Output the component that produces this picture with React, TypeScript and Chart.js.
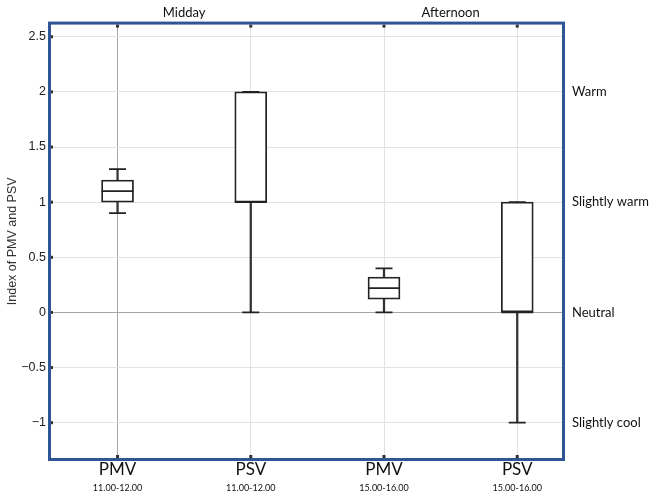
import React, { useEffect, useRef } from "react";
import { Chart, registerables } from "chart.js";

Chart.register(...registerables);

const categories = ["PMV", "PSV", "PMV", "PSV"];
const periods = ["11.00-12.00", "11.00-12.00", "15.00-16.00", "15.00-16.00"];
const positions = [0, 1, 2, 3];
const whiskerLow = [0.9, 0, 0, -1];
const q1 = [1.0, 1.0, 0.12, 0];
const medians = [1.1, 1.0, 0.22, 0];
const q3 = [1.2, 2.0, 0.32, 1.0];
const whiskerHigh = [1.3, 2.0, 0.4, 1.0];
const yTicks = [2.5, 2, 1.5, 1, 0.5, 0, -0.5, -1];
const sensationTicks = [2, 1, 0, -1];
const sensationLabels = ["Warm", "Slightly warm", "Neutral", "Slightly cool"];
const groupTicks = [0.5, 2.5];
const groupLabels = ["Midday", "Afternoon"];

const X_MIN = -0.507;
const X_MAX = 3.336;
const Y_MIN = -1.32;
const Y_MAX = 2.61;

const frame = {
  id: "frame",
  afterDraw(chart: any) {
    const { ctx, chartArea: a, scales } = chart;
    ctx.save();
    ctx.fillStyle = "#333";
    yTicks.forEach((v) => {
      const py = scales.y.getPixelForValue(v);
      ctx.fillRect(a.left, py - 1.5, 3, 3);
    });
    positions.forEach((v) => {
      const px = scales.x.getPixelForValue(v);
      ctx.fillRect(px - 1.5, a.top, 3, 3);
      ctx.fillRect(px - 1.5, a.bottom - 3, 3, 3);
    });
    ctx.strokeStyle = "#2f5597";
    ctx.lineWidth = 3;
    ctx.strokeRect(a.left - 0.5, a.top - 1.5, a.right - a.left + 2, a.bottom - a.top + 3);
    ctx.restore();
  },
};

export default function App() {
  const ref = useRef<HTMLCanvasElement>(null);
  useEffect(() => {
    document.body.style.margin = "0";
    const ctx = ref.current!;
    const boxData = positions.map((x, i) => ({ x, y: [q1[i], q3[i]] }));
    const whiskerData = positions.map((x, i) => ({ x, y: [whiskerLow[i], whiskerHigh[i]] }));
    const medianData = positions.map((x, i) => ({ x, y: medians[i] }));
    const capData = positions.flatMap((x, i) => [
      { x, y: whiskerLow[i] },
      { x, y: whiskerHigh[i] },
    ]);
    const fixTicks = (vals: number[]) => (scale: any) => {
      scale.ticks = vals.map((v) => ({ value: v }));
    };
    const xCommon = {
      type: "linear",
      min: X_MIN,
      max: X_MAX,
      offset: false,
    };
    const chart = new Chart(ctx, {
      type: "bar",
      data: {
        datasets: [
          {
            type: "line",
            data: medianData,
            showLine: false,
            pointStyle: "line",
            pointRadius: 16,
            pointBorderWidth: 1.8,
            pointBorderColor: "#222",
            order: 0,
          } as any,
          {
            type: "line",
            data: capData,
            showLine: false,
            pointStyle: "line",
            pointRadius: 8.5,
            pointBorderWidth: 1.8,
            pointBorderColor: "#222",
            order: 0,
          } as any,
          {
            type: "bar",
            data: boxData,
            backgroundColor: "#ffffff",
            borderColor: "#222",
            borderWidth: 1.8,
            borderSkipped: false,
            barThickness: 32,
            grouped: false,
            order: 1,
          } as any,
          {
            type: "bar",
            data: whiskerData,
            backgroundColor: "#333",
            borderWidth: 0,
            barThickness: 1.6,
            grouped: false,
            order: 2,
          } as any,
        ],
      },
      options: {
        animation: false,
        responsive: true,
        maintainAspectRatio: false,
        layout: { padding: { top: 1, right: 0, left: 5, bottom: 0 } },
        plugins: { legend: { display: false }, tooltip: { enabled: false } },
        scales: {
          x: {
            ...xCommon,
            position: "bottom",
            afterBuildTicks: fixTicks(positions),
            ticks: {
              callback: (v: any) => categories[positions.indexOf(Number(v))] ?? "",
              font: { family: "Lato", size: 17 },
              color: "#111",
              padding: 1,
              autoSkip: false,
              maxRotation: 0,
            },
            grid: {
              offset: false,
              color: (c: any) => (c.tick && c.tick.value === 0 ? "#a6a6a6" : "#e2e2e2"),
              lineWidth: 1,
              drawTicks: false,
            },
            border: { display: false },
            afterFit: (s: any) => {
              s.height = 21.5;
            },
          },
          x2: {
            ...xCommon,
            position: "bottom",
            afterBuildTicks: fixTicks(positions),
            ticks: {
              callback: (v: any) => periods[positions.indexOf(Number(v))] ?? "",
              font: { family: "Lato", size: 9 },
              color: "#111",
              padding: 3,
              autoSkip: false,
              maxRotation: 0,
            },
            grid: { offset: false, drawOnChartArea: false, drawTicks: false },
            border: { display: false },
            afterFit: (s: any) => {
              s.height = 17.5;
            },
          },
          xTop: {
            ...xCommon,
            position: "top",
            afterBuildTicks: fixTicks(groupTicks),
            ticks: {
              callback: (v: any) => groupLabels[groupTicks.indexOf(Number(v))] ?? "",
              font: { family: "Lato", size: 13 },
              color: "#111",
              padding: 4,
              autoSkip: false,
              maxRotation: 0,
            },
            grid: { offset: false, drawOnChartArea: false, drawTicks: false },
            border: { display: false },
          },
          y: {
            type: "linear",
            position: "left",
            min: Y_MIN,
            max: Y_MAX,
            afterBuildTicks: fixTicks(yTicks),
            ticks: {
              callback: (v: any) => {
                const n = Number(v);
                return n < 0 ? "\u2212" + Math.abs(n) : String(n);
              },
              font: { family: "Liberation Sans", size: 12.5 },
              color: "#222",
              padding: 4,
              autoSkip: false,
            },
            title: {
              display: true,
              text: "Index of PMV and PSV",
              font: { family: "Liberation Sans", size: 12.5 },
              color: "#333",
              padding: { top: 0, bottom: 0 },
            },
            grid: {
              color: (c: any) => (c.tick && c.tick.value === 0 ? "#a6a6a6" : "#e2e2e2"),
              lineWidth: 1,
              drawTicks: false,
            },
            border: { display: false },
            afterFit: (s: any) => {
              s.width = 45;
            },
          },
          y2: {
            type: "linear",
            position: "right",
            min: Y_MIN,
            max: Y_MAX,
            afterBuildTicks: fixTicks(sensationTicks),
            ticks: {
              callback: (v: any) => sensationLabels[sensationTicks.indexOf(Number(v))] ?? "",
              font: { family: "Lato", size: 13 },
              color: "#111",
              padding: 10,
              autoSkip: false,
            },
            grid: { drawOnChartArea: false, drawTicks: false },
            border: { display: false },
            afterFit: (s: any) => {
              s.width = 90;
            },
          },
        },
      } as any,
      plugins: [frame],
    });
    return () => chart.destroy();
  }, []);
  return (
    <div style={{ width: 652, height: 497, position: "relative" }}>
      <canvas ref={ref} />
    </div>
  );
}
